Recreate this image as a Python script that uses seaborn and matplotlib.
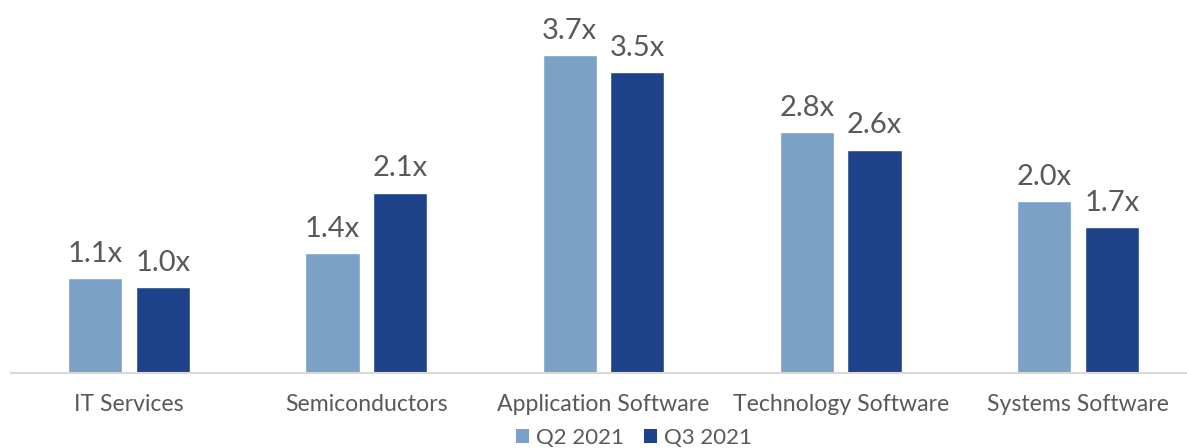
import matplotlib
matplotlib.use("Agg")
import matplotlib.pyplot as plt
import seaborn as sns
import pandas as pd
from matplotlib.patches import Patch

categories = ["IT Services", "Semiconductors", "Application Software",
              "Technology Software", "Systems Software"]
q2_2021 = [1.1, 1.4, 3.7, 2.8, 2.0]
q3_2021 = [1.0, 2.1, 3.5, 2.6, 1.7]
series_names = ["Q2 2021", "Q3 2021"]
colors = ["#7BA1C6", "#1D4289"]

df = pd.DataFrame({
    "category": categories * 2,
    "value": q2_2021 + q3_2021,
    "series": [series_names[0]] * len(categories) + [series_names[1]] * len(categories),
})

sns.set_style("white")
plt.rcParams["font.family"] = ["Lato", "DejaVu Sans"]
text_color = "#595959"

fig = plt.figure(figsize=(11.87, 4.48), dpi=100)
ax = fig.add_axes([10.5 / 1187, (448 - 373) / 448, 1186 / 1187, 373 / 448])

sns.barplot(data=df, x="category", y="value", hue="series", order=categories,
            hue_order=series_names, palette=colors, width=0.57, gap=0.2,
            saturation=1, legend=False, ax=ax)

for cont in ax.containers:
    ax.bar_label(cont, labels=[f"{v:.1f}x" for v in cont.datavalues],
                 padding=8, fontsize=21, color=text_color)

ax.set_ylim(0, 4.34)
ax.set_xlim(-0.5, 4.5)
ax.set_xlabel("")
ax.set_ylabel("")
ax.set_yticks([])
for s in ["top", "right", "left"]:
    ax.spines[s].set_visible(False)
ax.spines["bottom"].set_color("#D9D9D9")
ax.spines["bottom"].set_linewidth(1.5)
ax.tick_params(axis="x", length=0, pad=15, labelsize=16.6, labelcolor=text_color)

handles = [Patch(facecolor=c, edgecolor="none") for c in colors]
fig.legend(handles, series_names, loc="center", bbox_to_anchor=(634 / 1187, 1 - 438 / 448),
           ncol=2, frameon=False, prop={"size": 16}, labelcolor=text_color,
           handlelength=0.6, handleheight=0.6, handletextpad=0.3, columnspacing=0.9)

fig.savefig("out.png", dpi=100)
